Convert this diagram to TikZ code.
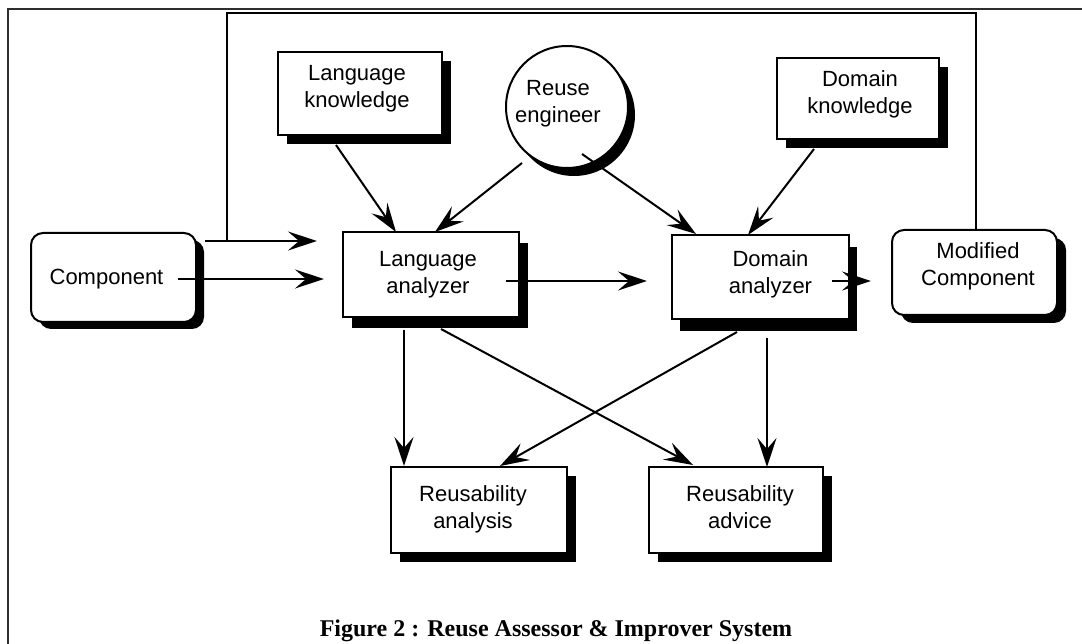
\documentclass[tikz,border=0pt]{standalone}
\usepackage{fontspec}
\setmainfont{Liberation Sans}
\newfontfamily\capfont{Liberation Serif}
\usetikzlibrary{arrows.meta,shadows,calc}
\begin{document}
\begin{tikzpicture}[x=1pt,y=-1pt,
  every node/.style={font=\fontsize{22}{27}\selectfont, align=center, inner sep=0pt},
  base/.style={draw=black, line width=2pt, fill=white},
  sqbox/.style={base, rectangle},
  rbox/.style={base, rectangle, rounded corners=12pt},
  shad/.style 2 args={drop shadow={shadow xshift=#1pt, shadow yshift=-#2pt, fill=black, opacity=1}},
  conn/.style={line width=2pt},
  arr/.style={conn, -{Stealth[length=29pt,width=19pt,inset=11pt]}},
  frameline/.style={draw=black!82, line width=2.2pt},
  captxt/.style={font=\capfont\bfseries\fontsize{24}{28}\selectfont}
]
\useasboundingbox (0,0) rectangle (1082,644);
\fill[white] (0,0) rectangle (1082,644);
% outer frame
\draw[frameline] (8,645) -- (8,9) -- (1083,9);

% nodes
\node[sqbox, shad={9}{9}, minimum width=164pt, minimum height=83pt] (lk) at (360,93.5) {};
\node (lkt) at ($(lk.center)+(-3,-5)$) {Language\\knowledge};

\node[base, circle, shad={7}{8}, minimum size=122pt] (re) at (567,107) {};
\node (ret) at ($(re.center)+(-9,-3)$) {Reuse\\engineer};

\node[sqbox, shad={9}{9}, minimum width=162pt, minimum height=81pt] (dk) at (858,98.5) {};
\node (dkt) at ($(dk.center)+(2,-4)$) {Domain\\knowledge};

\node[rbox, shad={8}{7}, minimum width=165pt, minimum height=89pt] (comp) at (113.5,277.5) {};
\node (compt) at ($(comp.center)+(-7,1.5)$) {Component};

\node[sqbox, shad={9}{11}, minimum width=176pt, minimum height=85pt] (la) at (431,274.5) {};
\node (lat) at ($(la.center)+(-3,0)$) {Language\\analyzer};

\node[sqbox, shad={8}{12}, minimum width=177pt, minimum height=84pt] (da) at (760.5,277) {};
\node (dat) at ($(da.center)+(10,-3)$) {Domain\\analyzer};

\node[rbox, shad={9}{8}, minimum width=165pt, minimum height=85pt] (mod) at (974.5,272.5) {};
\node (modt) at ($(mod.center)+(3.5,-6.5)$) {Modified\\Component};

\node[sqbox, shad={9}{9}, minimum width=176pt, minimum height=86pt] (ra) at (479,510) {};
\node (rat) at ($(ra.center)+(-6,-1)$) {Reusability\\analysis};

\node[sqbox, shad={9}{9}, minimum width=174pt, minimum height=86pt] (rad) at (736,510) {};
\node (radt) at ($(rad.center)+(4,-3)$) {Reusability\\advice};

% feedback loop
\coordinate (fbtop) at (227,13);
\coordinate (fbjoin) at (227,241);
\coordinate (stub) at (205,241);
\draw[conn] ($(mod.north)+(1.5,0)$) |- (fbtop) -- (fbjoin);
\draw[arr] (stub) -- ($(la.west)+(-25,-33.5)$);

% connectors
\draw[arr] ($(comp.center)+(64.5,1.5)$) -- ($(la.west)+(-18,4.5)$);
\draw[arr] ($(la.center)+(75,6.5)$) -- ($(da.west)+(-24,4)$);
\draw[arr] ($(da.center)+(71.5,4)$) -- ($(mod.west)+(-20,8.5)$);
\draw[arr] ($(lk.south)+(-24,9)$) -- ($(la.north)+(-35,1)$);
\draw[arr] ($(re.center)+(-45,56)$) -- ($(la.north)+(4,1)$);
\draw[arr] ($(re.center)+(15,47)$) -- ($(da.north)+(-64.5,0)$);
\draw[arr] ($(dk.south)+(-44,9)$) -- ($(da.north)+(-12.5,1)$);
\draw[arr] ($(la.south)+(-27,12)$) -- ($(ra.north)+(-75,0)$);
\draw[arr] ($(la.south)+(10,11)$) -- ($(rad.north)+(-43,-1)$);
\draw[arr] ($(da.south)+(-23.5,12)$) -- ($(ra.north)+(21,0)$);
\draw[arr] ($(da.south)+(6.5,18)$) -- ($(rad.north)+(31,1)$);

% caption
\node[captxt, anchor=base] (cap) at (556,636) {Figure 2 : Reuse Assessor \& Improver System};
\end{tikzpicture}
\end{document}
